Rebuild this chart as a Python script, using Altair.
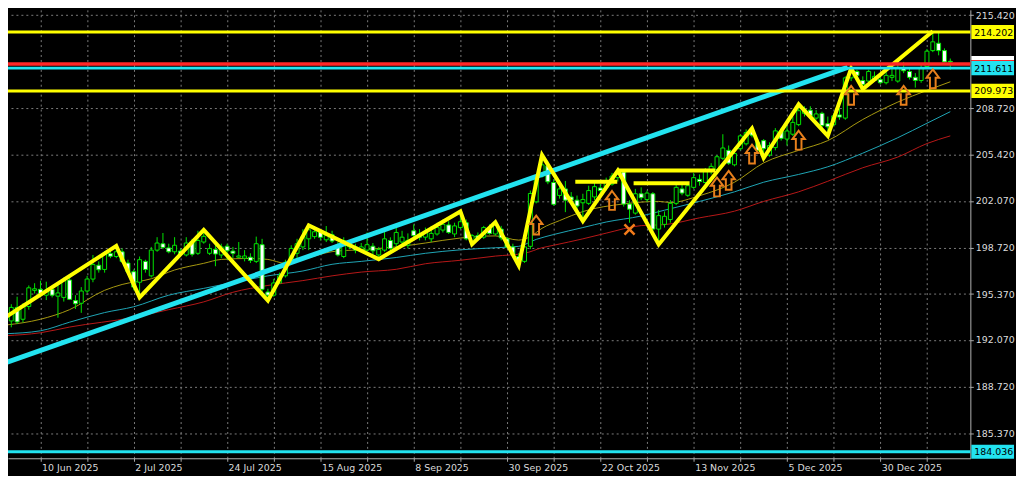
import altair as alt
import pandas as pd

# ---------------- candles (daily bars, index 0 = first visible bar) ----------------
opens = [193.56,193.44,194.41,193.56,194.48,195.64,195.71,195.29,195.71,195.22,
         195.13,196.38,194.90,194.71,195.59,196.45,197.44,197.14,198.28,198.07,
         198.41,197.60,196.98,196.22,197.72,196.68,198.53,198.99,198.69,198.41,
         198.46,198.18,199.15,198.30,199.11,198.30,198.58,198.18,198.81,198.46,
         198.02,197.95,198.02,197.72,198.92,195.52,195.29,196.17,196.68,197.65,
         198.30,198.76,199.34,199.50,199.92,199.27,199.64,198.92,198.07,198.76,
         198.76,198.58,198.53,198.81,198.18,198.53,199.22,198.99,199.11,198.88,
         199.92,199.69,199.46,199.34,199.69,199.97,200.34,199.69,200.15,200.50,
         199.11,199.57,199.46,200.08,199.69,200.04,199.34,198.76,198.07,197.72,
         198.80,202.00,203.85,204.59,203.39,202.46,202.93,202.35,202.12,201.93,
         201.89,202.35,203.00,203.04,203.27,203.74,204.15,201.84,201.19,202.58,
         202.16,202.58,200.04,200.38,200.73,201.89,202.93,202.47,203.04,203.62,
         203.39,204.20,204.32,205.13,205.70,204.66,205.82,206.17,207.09,206.28,
         206.40,205.36,205.90,207.09,206.51,206.86,207.55,208.36,208.59,208.02,
         208.36,207.62,207.55,208.25,208.02,210.91,211.37,210.72,210.68,210.72,
         210.79,210.56,210.95,210.68,211.60,211.37,210.95,210.72,211.72,212.87,
         213.40,212.87,212.10]
highs = [193.80,194.64,195.18,194.71,195.99,196.15,196.33,196.26,195.92,196.10,
         196.56,196.68,195.29,195.87,196.68,198.18,197.72,198.46,198.46,198.83,
         198.65,197.84,197.14,198.07,197.84,198.76,199.46,199.76,198.99,199.46,
         198.65,199.46,199.34,199.92,199.99,198.99,198.99,198.99,198.99,198.76,
         199.11,198.53,198.30,199.50,199.34,195.75,196.45,196.91,197.84,198.88,
         199.34,200.03,200.31,200.03,200.03,200.26,199.92,199.11,199.45,199.22,
         198.99,199.04,199.80,199.04,198.76,199.92,199.45,200.38,199.92,199.73,
         200.38,200.04,200.15,200.27,200.50,200.73,200.61,200.50,201.31,200.73,
         199.69,199.80,200.27,200.38,200.54,200.27,199.46,198.99,198.30,198.88,
         202.81,203.85,205.36,204.89,203.62,203.16,203.50,202.70,202.45,202.58,
         203.16,203.39,203.28,203.74,204.08,204.25,204.25,202.12,202.93,203.04,
         202.81,202.70,201.42,201.31,202.12,203.27,203.39,203.39,204.08,203.97,
         204.43,204.78,205.36,206.86,206.05,205.93,206.86,207.21,207.28,206.51,
         206.51,206.28,207.30,207.32,207.44,208.13,209.01,208.87,208.87,208.59,
         208.48,208.13,208.36,208.71,211.02,211.60,211.49,211.02,211.49,211.37,
         211.14,211.37,211.60,212.06,212.06,211.60,211.25,211.95,212.99,214.26,
         214.14,213.03,212.30]
lows = [193.05,192.98,193.21,193.33,194.25,195.41,195.13,194.94,195.13,193.67,
        194.83,194.94,194.30,194.02,195.45,196.22,196.91,196.91,197.95,197.95,
        197.60,196.80,195.64,195.13,196.91,196.56,198.41,198.60,198.30,198.23,
        198.07,198.07,198.07,198.18,198.99,198.18,197.37,197.95,197.84,197.95,
        197.95,197.72,197.60,197.60,195.52,194.90,195.18,196.10,196.56,197.49,
        197.95,198.53,198.53,199.34,199.22,199.11,199.04,198.07,197.95,198.60,
        198.30,198.41,198.41,198.18,197.88,198.41,198.41,198.53,198.88,198.65,
        199.34,199.23,199.23,199.11,199.57,199.80,199.69,199.46,200.04,199.23,
        198.95,199.23,199.34,199.64,199.57,199.23,198.65,198.02,197.42,197.61,
        198.60,201.89,203.74,203.27,201.72,202.23,201.26,201.89,201.30,200.62,
        201.77,202.12,202.58,202.81,203.16,203.46,201.66,200.50,201.08,202.12,
        202.00,199.92,198.93,200.15,200.50,201.77,202.47,202.35,202.93,203.16,
        203.16,203.97,204.15,205.01,204.66,204.55,205.70,206.05,206.63,205.59,
        205.15,205.24,205.70,206.40,206.05,206.74,207.44,208.13,208.02,207.90,
        207.32,206.74,207.44,207.90,207.90,210.68,210.91,210.10,210.56,210.63,
        210.44,210.44,210.68,210.56,211.25,210.79,210.21,210.56,211.60,212.76,
        212.53,212.02,211.49]
closes = [193.09,194.41,193.37,194.55,195.82,195.75,195.41,195.64,195.29,195.45,
          196.33,194.99,194.67,195.59,196.45,197.49,197.12,198.30,198.09,198.41,
          197.72,196.96,195.87,197.84,197.14,198.53,199.04,198.72,198.41,198.88,
          198.23,199.04,198.23,199.22,199.52,198.64,198.25,198.76,198.48,198.30,
          198.11,198.11,197.79,198.99,195.71,195.29,196.17,196.68,197.65,198.65,
          198.99,199.50,199.99,199.85,199.45,199.57,199.18,198.18,199.22,199.06,
          198.53,198.76,198.92,198.48,198.58,199.34,198.65,199.80,199.46,199.23,
          199.57,199.46,199.80,199.73,200.15,200.38,199.80,200.27,200.57,199.34,
          199.57,199.34,200.15,199.73,200.34,199.41,198.76,198.19,197.79,198.76,
          202.60,203.74,204.66,203.44,201.82,202.93,202.12,202.12,201.70,202.17,
          202.81,203.09,202.81,203.46,203.85,203.97,201.84,201.47,202.58,202.30,
          202.63,200.04,201.01,200.96,201.89,203.04,202.63,203.16,203.74,203.46,
          204.20,204.55,205.24,205.87,204.78,205.47,206.74,206.98,206.79,205.70,
          205.82,206.05,207.10,206.56,207.09,207.71,208.55,208.64,208.18,208.32,
          207.48,207.39,208.18,208.09,210.91,211.32,211.09,210.44,211.37,211.02,
          210.56,211.09,211.09,211.60,211.42,210.95,210.72,211.60,212.83,213.50,
          212.87,212.06,212.05]

# ---------------- moving averages ----------------
ma_fast_idx = [0,6,11,17,20,25,29,34,37,42,45,48,51,56,61,67,72,78,84,88,90,92,95,99,
               106,112,114,119,125,130,136,141,147,153,158,162]
ma_fast_val = [193.14,193.56,194.25,195.64,196.06,196.47,197.10,197.58,197.86,197.93,
               197.86,197.58,197.86,198.42,198.56,198.76,199.04,199.40,199.55,199.25,
               199.50,200.10,200.65,201.30,201.85,202.03,201.95,202.44,203.41,204.80,
               205.70,206.40,207.92,209.17,210.01,210.63]
ma_mid_idx = [0,6,11,17,22,28,34,39,45,51,56,61,67,72,78,84,88,91,94,99,103,109,113,
              119,125,130,136,141,147,153,158,162]
ma_mid_val = [192.52,192.73,193.35,194.04,194.46,195.29,195.78,196.20,196.68,197.03,
              197.51,197.72,198.00,198.30,198.55,198.70,198.80,199.30,199.65,200.15,
              200.55,200.98,201.40,202.03,202.72,203.41,203.97,204.52,205.50,206.61,
              207.65,208.48]
ma_slow_idx = [0,6,11,22,28,34,39,45,51,56,61,67,72,78,84,89,92,94,99,103,109,113,119,
               125,130,136,141,147,153,158,162]
ma_slow_val = [192.38,192.59,193.00,193.70,194.25,194.81,195.50,195.99,196.34,196.68,
               196.95,197.15,197.55,197.80,198.10,198.30,198.70,198.88,199.34,199.75,
               200.29,200.36,200.85,201.33,202.03,202.72,203.48,204.45,205.22,206.19,
               206.74]

# ---------------- drawn objects ----------------
zigzag_idx = [0,19,23,34,45,52,64,78,80,84,88,92,99,105,112,128,130,136,141,145,147,159]
zigzag_val = [193.70,198.83,195.13,199.99,194.90,200.31,197.88,201.31,198.95,200.54,
              197.42,205.36,200.62,204.25,198.93,207.28,205.15,209.01,206.74,211.60,
              210.10,214.26]
trend_idx = [0, 144.4]
trend_val = [190.44, 211.67]
neck_start = [97.7, 104.9, 107.7]
neck_end = [104.9, 121.7, 117.3]
neck_val = [203.45, 204.25, 203.34]
yellow_levels = [214.202, 209.973]
red_levels = [211.90]
cyan_levels = [211.611, 184.036]
arrow_idx = [91, 104, 122, 124, 128, 136, 145, 154, 159]
arrow_val = [200.33, 202.10, 203.07, 203.55, 205.43, 206.43, 209.66, 209.66, 210.84]
cross_idx = [107]
cross_val = [200.01]

# ---------------- axes ----------------
x_grid = [6, 14, 22, 30, 38, 46, 54, 62, 70, 78, 86, 94, 102, 110, 118, 126, 134, 142, 150, 158]
x_label_idx = [6, 22, 38, 54, 70, 86, 102, 118, 134, 150]
x_label_txt = ["10 Jun 2025", "2 Jul 2025", "24 Jul 2025", "15 Aug 2025", "8 Sep 2025",
               "30 Sep 2025", "22 Oct 2025", "13 Nov 2025", "5 Dec 2025", "30 Dec 2025"]
y_ticks = [185.37, 188.72, 192.07, 195.37, 198.72, 202.07, 205.42, 208.72, 215.42]

W, H = 970, 452
FONT = "DejaVu Sans"
LIME = "#00e600"
YELLOW = "#ffff00"
CYAN = "#22e3f0"
ORANGE = "#e8801c"

XS = alt.Scale(domain=[1.286, 164.59], nice=False, zero=False)
YS = alt.Scale(domain=[183.567, 215.80], nice=False, zero=False)

label_expr = " : ".join(f"datum.value == {i} ? '{t}'" for i, t in zip(x_label_idx, x_label_txt)) + " : ''"

grid_style = dict(grid=True, gridColor="#7c7c7c", gridDash=[2, 3], gridWidth=1,
                  tickColor="#a8a8a8", tickSize=3, domainColor="#b4b4b4", domainWidth=1,
                  labelColor="#dcdcdc", labelFont=FONT, labelFontSize=9.5,
                  labelOverlap=False, labelFlush=False)
x_axis = alt.Axis(values=x_grid, labelExpr=label_expr, labelAlign="left", labelOffset=1,
                  labelPadding=1, labelBaseline="top", title="", **grid_style)
y_axis = alt.Axis(orient="right", values=y_ticks, format=".3f", labelPadding=2, title="",
                  **grid_style)


def X(f):
    return alt.X(f, type="quantitative", scale=XS, axis=x_axis)


def Y(f):
    return alt.Y(f, type="quantitative", scale=YS, axis=y_axis)


bars = pd.DataFrame({"i": list(range(len(opens))), "o": opens, "h": highs, "l": lows, "c": closes})


def line_df(ix, vals):
    return pd.DataFrame({"i": ix, "v": vals})


ma_slow = alt.Chart(line_df(ma_slow_idx, ma_slow_val)).mark_line(
    color="#b81818", strokeWidth=1, interpolate="monotone", clip=True
).encode(x=X("i"), y=Y("v"))
ma_mid = alt.Chart(line_df(ma_mid_idx, ma_mid_val)).mark_line(
    color="#1fa6b6", strokeWidth=1, interpolate="monotone", clip=True
).encode(x=X("i"), y=Y("v"))
ma_fast = alt.Chart(line_df(ma_fast_idx, ma_fast_val)).mark_line(
    color="#a89a10", strokeWidth=1, interpolate="monotone", clip=True
).encode(x=X("i"), y=Y("v"))

wicks = alt.Chart(bars).mark_rule(color=LIME, strokeWidth=1, clip=True).encode(
    x=X("i"), y=Y("l"), y2="h:Q")
bodies = alt.Chart(bars).mark_bar(size=4, stroke=LIME, strokeWidth=1, clip=True).encode(
    x=X("i"), y=Y("o"), y2="c:Q",
    fill=alt.condition("datum.c > datum.o", alt.value("#000000"), alt.value("#ffffff")))

trend = alt.Chart(line_df(trend_idx, trend_val)).mark_line(
    color=CYAN, strokeWidth=5, clip=True).encode(x=X("i"), y=Y("v"))
zigzag = alt.Chart(line_df(zigzag_idx, zigzag_val)).mark_line(
    color=YELLOW, strokeWidth=4, clip=True).encode(x=X("i"), y=Y("v"))
necks = alt.Chart(pd.DataFrame({"a": neck_start, "b": neck_end, "v": neck_val})).mark_rule(
    color=YELLOW, strokeWidth=4, clip=True).encode(x=X("a"), x2="b:Q", y=Y("v"))


def hline(levels, color, width):
    return alt.Chart(pd.DataFrame({"v": levels})).mark_rule(
        color=color, strokeWidth=width).encode(y=Y("v"))


h_yellow = hline(yellow_levels, YELLOW, 3)
h_red = hline(red_levels, "#ff2626", 3.5)
h_cyan = hline(cyan_levels, CYAN, 3)

ARROW = "M0,-1 L0.66,-0.12 L0.3,-0.12 L0.3,1 L-0.3,1 L-0.3,-0.12 L-0.66,-0.12 Z"
arrows = alt.Chart(line_df(arrow_idx, arrow_val)).mark_point(
    shape=ARROW, size=361, filled=False, color=ORANGE, strokeWidth=2, opacity=1, clip=True
).encode(x=X("i"), y=Y("v"))
XSHAPE = "M-1,-0.7 L-0.7,-1 L0,-0.3 L0.7,-1 L1,-0.7 L0.3,0 L1,0.7 L0.7,1 L0,0.3 L-0.7,1 L-1,0.7 L-0.3,0 Z"
cross = alt.Chart(line_df(cross_idx, cross_val)).mark_point(
    shape=XSHAPE, size=144, filled=True, color="#f07a1a", opacity=1, clip=True
).encode(x=X("i"), y=Y("v"))

# price tags on the right axis
BOX = "M-1,-0.33 L1,-0.33 L1,0.33 L-1,0.33 Z"
SLIVER = "M-1,-0.1 L1,-0.1 L1,0.1 L-1,0.1 Z"
box_x = alt.value(W + 22.5)


def tags(levels, color):
    df = pd.DataFrame({"v": levels, "t": [f"{v:.3f}" for v in levels]})
    box = alt.Chart(df).mark_point(shape=BOX, size=1849, filled=True, color=color,
                                   opacity=1, strokeWidth=0).encode(x=box_x, y=Y("v"))
    txt = alt.Chart(df).mark_text(align="left", baseline="middle", font=FONT, fontSize=9.5,
                                  color="#000000", dy=0.5).encode(
        x=alt.value(W + 4), y=Y("v"), text="t:N")
    return box + txt


white_tag = alt.Chart(pd.DataFrame({"v": [212.33]})).mark_point(
    shape=SLIVER, size=1849, filled=True, color="#ffffff", opacity=1, strokeWidth=0
).encode(x=box_x, y=Y("v"))
red_tag = alt.Chart(pd.DataFrame({"v": [212.04]})).mark_point(
    shape=SLIVER, size=1849, filled=True, color="#ff2626", opacity=1, strokeWidth=0
).encode(x=box_x, y=Y("v"))

chart = alt.layer(
    ma_slow, ma_mid, ma_fast, wicks, bodies, trend, zigzag, necks,
    h_yellow, h_red, h_cyan, arrows, cross,
    white_tag, red_tag, tags(yellow_levels, YELLOW), tags(cyan_levels, CYAN),
).properties(
    width=W, height=H,
    autosize=alt.AutoSizeParams(type="none"),
    padding={"left": 0, "top": 0, "right": 46, "bottom": 16},
    background="#000000",
).configure_view(strokeWidth=0, fill="#000000")

chart.save("out.html", embed_options={"renderer": "svg", "actions": False})
